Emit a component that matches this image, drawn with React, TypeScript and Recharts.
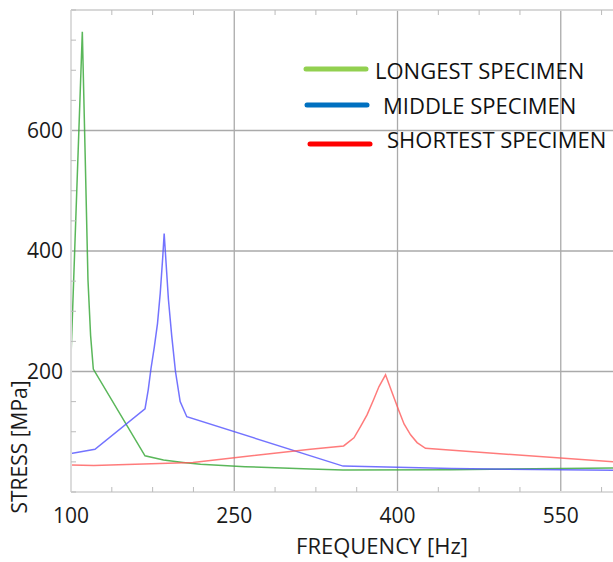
import {
  LineChart,
  Line,
  XAxis,
  YAxis,
  ReferenceLine,
  Legend,
} from 'recharts'

// frequency [Hz] / stress [MPa]
const longestFreq = [100, 110.4, 113, 115.6, 118, 120.5, 168, 185, 203, 219, 260, 320, 350, 450, 598]
const longestStress = [225, 764, 560, 352, 260, 204, 60, 53, 49, 46, 42, 38, 36.6, 37, 40]

const middleFreq = [100, 122, 168, 171, 173.5, 176.5, 179.5, 182, 184.3, 185.6, 187, 189.5, 192.5, 196, 200.3, 206.4, 350, 450, 598]
const middleStress = [64, 71, 138, 170, 205, 240, 280, 330, 390, 429, 390, 320, 260, 200, 150, 125, 43, 39, 36]

const shortestFreq = [100, 121, 212, 250, 320, 350.5, 360, 366, 372, 378, 383, 389, 395, 401, 406, 412, 418, 425.7, 598]
const shortestStress = [45, 44, 49, 57, 71, 76.5, 90, 108.6, 128, 153, 175, 194.5, 165, 136, 113, 95, 82, 72.6, 50]

const xMinorTicks = [100, 137.5, 175, 212.5, 250, 287.5, 325, 362.5, 400, 437.5, 475, 512.5, 550, 587.5]
const xLabelTicks = [100, 250, 400, 550]
const yMinorTicks = [0, 50, 100, 150, 200, 250, 300, 350, 400, 450, 500, 550, 600, 650, 700, 750, 800]
const yLabelTicks = [200, 400, 600]
const xGrid = [250, 400, 550]
const yGrid = [200, 400, 600, 800]

const legendItems = [
  { name: 'LONGEST SPECIMEN', color: '#92d050' },
  { name: 'MIDDLE SPECIMEN', color: '#0070c0' },
  { name: 'SHORTEST SPECIMEN', color: '#ff0000' },
]

const toPoints = (f: number[], s: number[]) => f.map((v, i) => ({ f: v, s: s[i] }))

const longest = toPoints(longestFreq, longestStress)
const middle = toPoints(middleFreq, middleStress)
const shortest = toPoints(shortestFreq, shortestStress)

const FONT = '"Open Sans", sans-serif'

const BottomTick = (props: any) => {
  const { x, y, payload } = props
  const major = xLabelTicks.includes(payload.value)
  return (
    <g>
      {!major && <line x1={x} x2={x} y1={y} y2={y - 5} stroke="#bbb" strokeWidth={1} />}
      {major && (
        <text x={x} y={y + 31} textAnchor="middle" fontSize={21} fontFamily={FONT} fill="#1a1a1a">
          {payload.value}
        </text>
      )}
    </g>
  )
}

const TopTick = (props: any) => {
  const { x, y, payload } = props
  if (xLabelTicks.includes(payload.value)) return <g />
  return <line x1={x} x2={x} y1={y} y2={y + 5} stroke="#bbb" strokeWidth={1} />
}

const LeftTick = (props: any) => {
  const { x, y, payload } = props
  const major = yLabelTicks.includes(payload.value)
  return (
    <g>
      {!major && <line x1={x} x2={x + 5} y1={y} y2={y} stroke="#bbb" strokeWidth={1} />}
      {major && (
        <text x={x - 8} y={y + 7} textAnchor="end" fontSize={21} fontFamily={FONT} fill="#1a1a1a">
          {payload.value}
        </text>
      )}
    </g>
  )
}

const YTitle = (props: any) => {
  const { viewBox } = props
  const cx = 19
  const cy = viewBox.y + viewBox.height - 45
  return (
    <text
      x={cx}
      y={cy}
      transform={`rotate(-90 ${cx} ${cy})`}
      textAnchor="middle"
      dominantBaseline="central"
      fontSize={21}
      fontFamily={FONT}
      fill="#1a1a1a"
    >
      STRESS [MPa]
    </text>
  )
}

const SpecimenLegend = () => (
  <svg width={313} height={110}>
    {legendItems.map((item, i) => {
      const offsets = [
        { x1: 6, x2: 66, ly: 14, tx: 75, ty: 15 },
        { x1: 7, x2: 67, ly: 50, tx: 83, ty: 50 },
        { x1: 10, x2: 70, ly: 89, tx: 87, ty: 84 },
      ][i]
      return (
        <g key={item.name}>
          <line
            x1={offsets.x1}
            x2={offsets.x2}
            y1={offsets.ly}
            y2={offsets.ly}
            stroke={item.color}
            strokeWidth={5}
            strokeLinecap="round"
          />
          <text
            x={offsets.tx}
            y={offsets.ty}
            dominantBaseline="central"
            fontSize={22}
            fontFamily={FONT}
            fill="#111"
          >
            {item.name}
          </text>
        </g>
      )
    })}
  </svg>
)

export default function App() {
  return (
    <div style={{ position: 'absolute', left: 0, top: 0, width: 613, height: 562, background: '#fff' }}>
      <LineChart width={613} height={562} margin={{ top: 0, right: 0, bottom: 0, left: 0 }}>
        <XAxis
          xAxisId="bottom"
          dataKey="f"
          type="number"
          domain={[100, 598]}
          ticks={xMinorTicks}
          allowDataOverflow
          height={70}
          tickSize={0}
          tickMargin={0}
          tickLine={false}
          tick={BottomTick}
          interval={0}
          axisLine={{ stroke: '#dcdcdc', strokeWidth: 2 }}
          label={{
            value: 'FREQUENCY [Hz]',
            position: 'insideBottom',
            offset: 8,
            dx: 40,
            fontSize: 22,
            fontFamily: FONT,
            fill: '#1a1a1a',
          }}
        />
        <XAxis
          xAxisId="top"
          orientation="top"
          dataKey="f"
          type="number"
          domain={[100, 598]}
          ticks={xMinorTicks}
          allowDataOverflow
          height={10}
          tickSize={0}
          tickMargin={0}
          tickLine={false}
          tick={TopTick}
          interval={0}
          axisLine={{ stroke: '#d6d6d6', strokeWidth: 1.5 }}
        />
        <YAxis
          type="number"
          domain={[0, 800]}
          ticks={yMinorTicks}
          width={71}
          tickSize={0}
          tickMargin={0}
          tickLine={false}
          tick={LeftTick}
          interval={0}
          axisLine={{ stroke: '#dcdcdc', strokeWidth: 2 }}
          label={<YTitle />}
        />
        {xGrid.map((v) => (
          <ReferenceLine key={`x${v}`} xAxisId="bottom" x={v} stroke="#aaa" strokeWidth={1.3} />
        ))}
        {yGrid.map((v) => (
          <ReferenceLine key={`y${v}`} xAxisId="bottom" y={v} stroke={v === 800 ? '#d6d6d6' : '#aaa'} strokeWidth={1.3} />
        ))}
        <Legend
          layout="horizontal"
          verticalAlign="middle"
          align="center"
          content={<SpecimenLegend />}
          wrapperStyle={{ position: 'absolute', left: 300, top: 55, width: 313, height: 110 }}
        />
        <Line
          xAxisId="bottom"
          data={longest}
          dataKey="s"
          type="linear"
          stroke="#3daa3d"
          strokeWidth={1.5}
          strokeOpacity={0.85}
          dot={false}
          isAnimationActive={false}
        />
        <Line
          xAxisId="bottom"
          data={middle}
          dataKey="s"
          type="linear"
          stroke="#5050ff"
          strokeWidth={1.5}
          strokeOpacity={0.8}
          dot={false}
          isAnimationActive={false}
        />
        <Line
          xAxisId="bottom"
          data={shortest}
          dataKey="s"
          type="linear"
          stroke="#ff5a5a"
          strokeWidth={1.5}
          strokeOpacity={0.8}
          dot={false}
          isAnimationActive={false}
        />
      </LineChart>
    </div>
  )
}
